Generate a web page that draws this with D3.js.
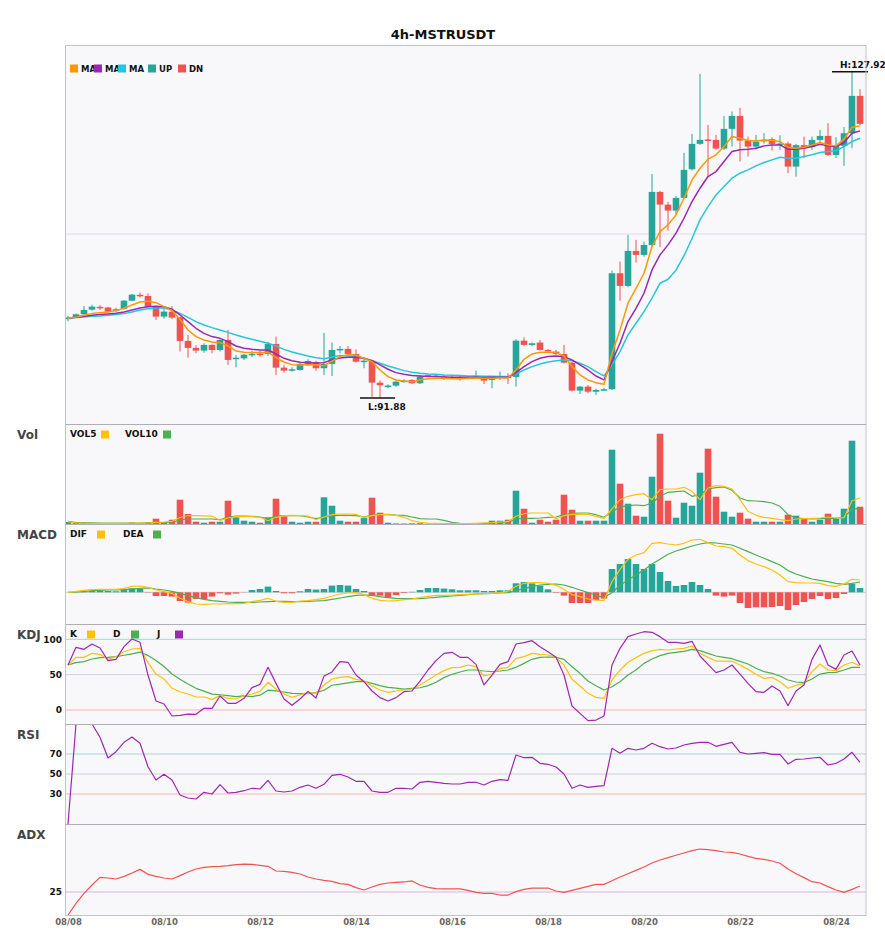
<!DOCTYPE html>
<html>
<head>
<meta charset="utf-8">
<script src="https://cdn.jsdelivr.net/npm/d3@7/dist/d3.min.js"></script>
<style>
html, body { margin: 0; padding: 0; background: #ffffff; }
svg { display: block; font-family: "DejaVu Sans", sans-serif; }
</style>
</head>
<body>
<svg id="chart" width="885" height="950"></svg>
<script>
// ---------------- DATA ----------------
const title = "4h-MSTRUSDT";
const tickLabels = ["08/08","08/10","08/12","08/14","08/16","08/18","08/20","08/22","08/24"];
const tickIndex  = [0, 12, 24, 36, 48, 60, 72, 84, 96];

const open = [100.68,100.76,101.13,101.64,101.95,101.88,101.53,101.72,102.63,103.28,
103.15,101.97,100.87,101.42,100.80,98.18,97.41,97.11,97.74,97.18,
98.29,96.16,96.25,96.70,96.78,96.74,97.85,95.23,94.90,94.97,
95.64,95.85,95.16,95.64,97.18,97.30,96.74,95.89,96.00,93.57,
93.15,93.24,93.65,93.87,93.50,94.30,94.28,94.26,94.18,94.12,
94.05,94.14,94.17,93.87,94.17,94.25,94.20,98.21,97.74,98.00,
97.18,97.00,96.74,95.78,92.69,93.13,92.57,92.76,92.84,105.66,
104.26,108.13,107.69,108.79,114.65,113.25,112.59,113.99,117.16,119.96,
120.45,120.40,119.44,121.62,123.05,120.32,119.66,120.25,120.48,119.96,
120.00,117.45,119.82,119.60,120.40,120.84,118.74,119.74,121.14,125.27];

const high = [100.94,101.20,102.05,102.19,102.13,101.95,101.83,102.70,103.37,103.52,
103.45,102.00,101.83,102.05,100.85,98.84,97.70,97.92,97.80,98.37,
99.40,96.63,96.74,97.11,97.11,98.07,98.66,95.53,95.27,95.89,
96.16,96.00,99.07,98.00,97.63,97.63,97.26,96.25,96.10,93.80,
93.39,93.79,93.94,93.94,94.42,94.50,94.45,94.42,94.35,94.30,
94.30,94.90,94.30,94.30,94.78,94.60,98.37,98.59,98.00,98.29,
97.30,97.18,97.74,95.90,93.20,93.31,92.90,93.00,105.95,106.95,
109.90,109.35,109.16,116.64,114.77,113.55,114.20,118.96,121.07,127.70,
122.06,120.95,123.05,123.53,123.94,120.77,120.95,121.14,120.70,120.92,
120.20,119.96,120.77,120.77,121.51,122.25,120.70,121.81,127.92,126.00];

const low = [100.36,100.70,101.10,101.53,101.61,101.35,101.39,101.65,102.56,103.01,
101.90,100.50,100.65,100.58,97.00,96.33,96.82,96.88,96.82,97.00,
95.53,95.27,96.08,96.38,96.38,96.52,94.42,94.68,94.79,94.90,
95.42,94.90,94.42,94.30,96.82,96.63,95.78,95.16,92.00,91.88,
92.95,93.10,93.57,93.42,93.42,94.20,94.15,93.87,93.98,93.79,
93.95,94.00,93.42,92.95,93.87,93.42,93.13,97.63,97.60,97.11,
97.00,96.63,95.70,92.58,92.32,92.40,92.21,92.70,92.76,102.63,
104.10,106.84,107.50,108.60,108.57,110.37,112.11,113.90,117.00,119.85,
116.31,119.30,119.30,119.66,118.00,118.56,119.30,120.00,119.22,119.30,
116.72,116.34,118.38,119.30,120.00,118.60,118.40,117.53,119.48,122.00];

const close = [100.76,101.13,101.61,101.97,101.88,101.42,101.68,102.63,103.30,103.24,
101.97,100.87,101.42,100.76,98.18,97.41,97.11,97.74,97.18,98.29,
96.08,96.33,96.66,96.76,96.72,97.85,95.23,94.90,95.05,95.64,
95.97,95.16,95.64,97.18,97.30,96.74,95.89,96.00,93.57,93.28,
93.25,93.68,93.79,93.50,94.23,94.39,94.34,94.20,94.12,94.05,
94.14,94.30,93.79,94.17,94.25,94.20,98.21,97.74,97.92,97.18,
97.11,96.74,95.78,92.69,93.13,92.57,92.76,92.84,105.66,104.26,
108.13,107.69,108.79,114.65,113.25,112.59,113.99,117.09,119.96,120.40,
120.38,119.44,121.62,123.05,120.32,119.66,120.21,120.40,119.96,120.00,
117.45,119.82,119.60,120.40,120.84,118.74,119.74,121.14,125.27,122.17];

const ma5 = [100.68,100.83,101.01,101.20,101.31,101.38,101.53,101.79,102.16,102.49,
102.56,102.41,101.97,101.53,100.57,99.39,98.66,98.29,98.07,97.99,
97.62,97.07,96.92,96.89,96.89,96.92,96.33,95.85,95.56,95.52,
95.56,95.56,95.45,95.95,96.45,96.67,96.59,96.26,95.89,94.97,
94.24,93.87,93.76,93.68,93.87,94.01,94.05,94.05,94.01,94.01,
94.05,94.09,94.05,94.05,94.09,94.09,94.97,96.15,96.74,96.93,
96.93,96.89,96.52,95.34,94.42,93.87,93.57,93.40,96.82,99.40,
102.35,104.00,105.66,108.61,110.27,111.01,112.11,113.95,115.98,117.27,
118.27,118.75,119.67,120.77,120.59,120.33,120.29,120.40,120.33,120.22,
119.59,119.48,119.59,119.85,120.11,119.85,119.74,120.48,121.80,121.95];

const ma10 = [100.68,100.79,100.90,101.01,101.09,101.16,101.23,101.38,101.60,101.82,
101.97,102.01,101.97,101.68,101.05,100.31,99.58,99.02,98.66,98.47,
98.10,97.62,97.37,97.25,97.18,97.18,96.74,96.26,96.00,95.82,
95.78,95.74,95.78,96.10,96.30,96.37,96.37,96.26,96.00,95.53,
95.05,94.68,94.49,94.35,94.31,94.24,94.24,94.20,94.16,94.16,
94.16,94.16,94.13,94.16,94.16,94.16,94.68,95.34,95.89,96.26,
96.45,96.52,96.45,96.08,95.53,94.97,94.30,93.87,95.90,97.92,
100.32,101.79,103.45,106.03,107.69,108.80,110.09,111.74,113.59,115.06,
116.35,116.90,118.01,119.11,119.30,119.37,119.48,119.74,119.85,119.85,
119.37,119.37,119.48,119.67,119.93,119.74,119.67,120.11,121.14,121.40];

const ma20 = [100.68,100.76,100.83,100.90,100.94,101.01,101.09,101.20,101.38,101.60,
101.75,101.82,101.82,101.60,101.23,100.79,100.31,99.94,99.65,99.39,
99.13,98.84,98.58,98.36,98.14,97.92,97.62,97.25,96.96,96.74,
96.52,96.33,96.22,96.40,96.56,96.52,96.45,96.26,96.00,95.71,
95.41,95.16,94.90,94.71,94.60,94.53,94.49,94.42,94.38,94.35,
94.31,94.31,94.27,94.27,94.24,94.24,94.53,94.97,95.34,95.64,
95.86,96.00,96.08,96.00,95.71,95.34,94.79,94.31,95.53,97.00,
98.85,100.13,101.42,102.90,104.56,105.00,106.00,107.60,109.50,111.56,
113.03,114.32,115.24,116.17,116.72,117.09,117.53,117.90,118.19,118.49,
118.38,118.38,118.56,118.75,119.00,119.11,119.19,119.67,120.22,120.59];

const volume = [2,1.5,1,1,0.7,0.7,0.7,1,1.5,0.7,
1.7,5.3,1.7,4.3,24.3,10,2.3,1.3,2.3,2.3,
23.3,6.7,3.3,2.3,1.3,6.7,25.3,7.7,2.3,1.3,
2.3,2.3,26.7,18.3,3.3,2.3,2.3,6,26.3,11.3,
1.3,0.6,0.5,0.7,0.8,0.4,0.4,0.3,0.3,0.3,
0.4,1,1,3.3,3.3,4.3,33.3,15.3,1.3,4.3,
2.3,4.3,29.3,14.3,3.3,3.3,3.3,3.3,74.3,40.3,
20.3,8.3,7.3,47.3,90.3,23.3,6.3,21.3,18.3,51.3,
75.3,27.3,12.3,7.3,11.3,5.3,2.3,2.3,2.3,2.3,
9.3,8.3,5.3,2.3,4.3,10.3,5.3,15.3,83.3,17.3];

const vol5 = [2.3,1,0.8,0.7,0.7,0.7,0.7,0.7,0.8,0.8,
1,1.7,2,2.7,6.5,8.5,8.3,8.2,7.8,3.7,
6,7.3,7.3,7.3,6.7,3.3,6.7,8.3,8.7,8.3,
8,4.3,7,9.3,10,10,9.7,6.3,8.3,9.3,
9.3,8.7,6.7,3.3,1.7,1,0.7,0.3,0.3,0.3,
0.3,0.7,1,1.3,2,2.3,7.7,10.3,11,11,
11,5.3,8.3,9.7,9.7,9.7,7.7,5.7,15,24.3,
27.7,29.3,30.3,24.3,34.3,35,35,36.7,32.7,24.3,
36,38.3,37.7,35,24.3,12.7,8.7,6.7,5.7,4.3,
3.3,5,5.3,5.7,6,7,6,6.3,23.3,26];

const vol10 = [2.7,1.3,1.3,1.2,1,1,1,1,1,1,
1.2,1.3,1.3,2,4,5,5,5,5,4.3,
7,8,8,7.7,7,5.3,8,8.3,8.3,8.3,
7,5.3,7,8.3,8.7,8.7,8.3,7,9,9.3,
9.7,9,8.7,7,5.3,5,5,3.7,1.7,0.7,
0.3,0.3,0.7,1,1.3,1.7,5,5.7,5.7,6,
6.7,7,9.3,10.7,11,11,9.3,6.7,12.3,17,
18.3,19,18.3,21,27.7,31.7,32.3,33,27.7,29.3,
35,36.3,37,33.7,26,23.3,23,22.3,21,17.7,
9.3,6,5.3,5,5.3,5.7,5.7,7,14.3,16];

const macdHist = [0,0.05,0.1,0.17,0.13,0.13,0.1,0.3,0.4,0.33,
-0.03,-0.37,-0.37,-0.43,-0.87,-1.03,-0.67,-0.67,-0.43,-0.1,
-0.23,-0.13,-0.02,0.23,0.33,0.57,0.13,-0.1,-0.1,0.1,
0.33,0.27,0.33,0.67,0.73,0.67,0.33,0.13,-0.33,-0.33,
-0.53,-0.27,-0.07,0.05,0.23,0.43,0.43,0.37,0.3,0.2,
0.2,0.2,0.13,0.13,0.2,0.2,0.9,1.03,0.9,0.67,
0.3,-0.05,-0.33,-1.07,-1.07,-1.07,-0.8,-0.63,2.33,2.83,
3.33,2.83,2.33,2.83,2.03,1.13,0.63,0.73,1.03,0.73,
0.33,-0.33,-0.43,-0.33,-1.07,-1.57,-1.5,-1.5,-1.47,-1.37,
-1.77,-1.27,-0.97,-0.67,-0.37,-0.67,-0.57,-0.17,0.83,0.43];

const dif = [0,0.10,0.20,0.27,0.30,0.30,0.30,0.40,0.60,0.63,
0.50,0.23,0.07,-0.10,-0.60,-0.93,-1.17,-1.20,-1.17,-1.17,
-1.13,-1.13,-1.10,-0.93,-0.80,-0.60,-0.90,-1.00,-1.00,-0.88,
-0.83,-0.73,-0.60,-0.37,-0.17,-0.07,-0.03,-0.23,-0.60,-0.80,
-0.87,-0.83,-0.73,-0.67,-0.53,-0.40,-0.30,-0.30,-0.27,-0.23,
-0.20,-0.17,-0.13,-0.10,-0.03,0.10,0.60,0.90,0.97,0.97,
0.90,0.70,0.30,-0.23,-0.43,-0.67,-0.77,-0.83,1.07,2.30,
3.30,3.73,3.97,4.90,4.97,4.83,4.73,4.90,5.23,5.30,
4.97,4.63,4.57,4.40,3.73,3.17,2.83,2.57,2.23,1.73,
1.07,0.97,0.93,0.93,0.90,0.67,0.60,0.83,1.30,1.23];

const dea = [0,0.03,0.10,0.17,0.20,0.23,0.23,0.27,0.33,0.40,
0.45,0.33,0.23,0.10,-0.10,-0.33,-0.53,-0.70,-0.83,-0.90,
-0.97,-1.00,-1.00,-1.00,-0.97,-0.93,-0.90,-0.90,-0.93,-0.93,
-0.90,-0.87,-0.83,-0.70,-0.57,-0.43,-0.30,-0.27,-0.30,-0.43,
-0.53,-0.60,-0.63,-0.63,-0.63,-0.57,-0.50,-0.43,-0.37,-0.30,
-0.23,-0.17,-0.13,-0.10,-0.07,-0.03,0.17,0.37,0.57,0.73,
0.80,0.83,0.73,0.50,0.23,-0.03,-0.30,-0.53,-0.05,0.70,
1.23,1.73,2.23,2.83,3.30,3.80,4.13,4.37,4.63,4.83,
4.97,4.93,4.83,4.73,4.40,4.07,3.73,3.40,3.07,2.73,
2.17,1.83,1.57,1.33,1.20,1.07,0.90,0.80,0.90,1.03];

const kLine = [63.7,74.5,74.5,80.2,78.8,71.7,75.5,82.5,86.3,87.3,
67.0,50.9,43.9,30.7,25.9,22.6,18.4,18.4,15.1,20.3,
16.5,15.6,19.8,22.6,26.4,39.2,29.7,22.6,17.9,21.2,
24.5,23.6,35.4,43.9,46.2,47.2,43.4,41.0,34.0,28.3,
25.0,26.9,28.3,29.7,35.4,42.5,49.5,55.7,59.9,60.4,
63.7,61.3,48.1,50.9,58.5,60.4,73.1,75.5,80.2,78.8,
77.8,74.5,63.7,43.4,34.0,23.6,17.9,16.5,42.5,56.6,
67.5,74.1,80.2,84.0,85.8,84.9,86.3,87.3,90.6,80.2,
74.5,69.3,69.3,68.9,63.7,57.5,50.5,44.8,46.2,40.1,
30.7,34.9,37.7,54.2,65.1,56.6,55.7,63.7,67.5,62.3];

const dLine = [63.7,67.0,68.4,72.2,74.1,74.5,75.5,77.5,79.5,82.0,
77.0,70.0,61.5,51.0,43.5,36.8,30.7,26.7,22.5,21.6,
20.3,19.0,20.0,19.0,21.0,28.0,27.0,25.5,23.6,23.3,
23.0,24.5,28.0,35.0,36.5,38.5,40.2,40.5,37.7,34.5,
32.0,31.0,29.6,30.5,31.5,34.5,39.3,45.8,50.5,53.8,
56.6,56.6,55.2,54.2,55.2,56.6,60.4,66.0,71.7,74.5,
75.0,74.5,71.7,61.3,51.9,41.0,34.4,28.3,33.0,40.1,
49.5,56.6,66.0,72.2,76.9,80.2,81.6,83.0,85.8,84.0,
80.2,76.4,74.5,72.6,68.9,65.1,59.0,54.2,51.9,48.1,
42.5,39.6,38.7,43.9,50.9,52.8,53.3,56.6,60.4,60.4];

const jLine = [63.7,88.7,85.8,93.4,87.7,69.8,71.7,89.6,100.5,95.8,
49.5,12.7,8.5,-8.5,-7.5,-5.7,-6.1,2.4,2.4,19.8,
9.4,9.4,16.5,31.6,36.3,60.4,37.7,15.6,6.6,15.6,
26.4,17.0,48.0,53.8,68.4,67.5,49.5,40.1,26.9,17.5,
12.7,17.5,25.9,26.9,41.0,56.6,69.8,80.2,81.6,74.5,
74.5,64.6,35.4,49.5,64.6,68.4,93.4,95.3,98.1,89.6,
82.5,74.5,49.5,5.7,-4.7,-15.1,-14.2,-8.5,63.7,87.3,
103.8,107.5,110.8,109.9,103.8,95.8,95.8,94.3,97.2,76.4,
64.6,52.8,56.6,63.7,50.9,37.7,25.9,25.0,34.0,26.9,
6.1,26.9,35.4,71.7,92.0,63.7,57.5,77.8,83.5,63.7];

const rsi = [0,100,100,100,86.7,66.0,72.3,81.7,87.0,80.7,
57.3,44.0,49.7,44.0,29.0,26.0,25.0,31.7,30.0,39.3,
31.0,31.7,33.3,35.7,35.0,43.7,33.0,32.0,33.0,36.7,
39.0,35.7,39.7,48.7,49.7,47.0,42.7,42.7,33.0,31.7,
31.7,35.7,35.7,35.0,41.7,42.7,41.7,40.7,40.0,40.0,
41.7,41.7,39.0,42.7,44.3,43.7,69.0,66.3,66.7,60.7,
59.7,57.0,50.0,35.7,39.0,36.7,37.7,38.3,75.7,70.7,
75.7,74.0,75.7,80.7,77.3,75.0,76.0,79.0,80.7,81.7,
81.7,77.7,79.7,81.7,71.7,70.0,70.7,71.3,69.7,69.7,
60.0,64.7,65.0,66.0,66.7,59.0,60.7,65.0,71.7,61.7];

const adx = [0,12.7,23.5,32.6,40.9,40.2,39.1,42.0,45.6,49.6,
44.2,42.0,40.2,39.1,42.8,46.7,50.0,51.8,52.5,52.9,
53.6,54.7,55.4,55.1,54.0,52.9,47.8,47.5,46.4,44.6,
41.3,39.1,37.7,36.6,34.1,33.3,29.7,27.2,30.4,33.3,
34.8,35.5,35.9,37.0,32.6,30.1,28.6,28.3,28.3,28.3,
26.8,24.6,23.5,23.5,21.7,21.7,25.4,27.9,29.3,29.3,
29.3,26.1,24.6,26.8,29.0,31.2,33.3,33.3,37.3,41.3,
44.9,48.5,52.2,56.5,59.8,62.3,64.9,67.4,69.9,71.7,
71.0,69.9,68.5,68.1,66.3,63.8,61.6,60.5,58.7,56.2,
50.0,44.9,40.6,36.2,34.8,30.8,27.2,24.6,27.9,31.5];

const priceGrid = [110];
const kdjRefs = [100, 50, 0];
const rsiRefs = [70, 50, 30];
const adxRefs = [25];

// ---------------- LAYOUT / STYLE ----------------
const UP = "#26a69a", DN = "#ef5350";
const C_ORANGE = "#ff9800", C_PURPLE = "#9c27b0", C_CYAN = "#26c6da";
const C_YELLOW = "#ffc107", C_GREEN = "#4caf50";
const PX0 = 66, PX1 = 866;
const panels = {
  main: [45, 424], vol: [424, 524], macd: [524, 624],
  kdj: [624, 724], rsi: [724, 824], adx: [824, 915]
};
const n = close.length;

const svg = d3.select("#chart");

// scales
const x = d3.scaleLinear().domain([0, n - 1]).range([68, 860]);
const yMain = d3.scaleLinear().domain([89, 131]).range([424, 44]);
const yVol = d3.scaleLinear().domain([0, 100]).range([524, 424]);
const yMacd = d3.scaleLinear().domain([-3.17, 6.83]).range([624, 524]);
const yKdj = d3.scaleLinear().domain([-19.8, 121.7]).range([724, 624]);
const yRsi = d3.scaleLinear().domain([0, 100]).range([824, 724]);
const yAdx = d3.scaleLinear().domain([0, 100]).range([915, 823]);

// title
svg.append("text").attr("x", 443).attr("y", 39).attr("text-anchor", "middle")
  .attr("font-size", 13).attr("font-weight", "bold").attr("fill", "#111").text(title);

// panel backgrounds + clip paths
const defs = svg.append("defs");
Object.entries(panels).forEach(([key, [t, b]]) => {
  svg.append("rect").attr("x", PX0).attr("y", t).attr("width", PX1 - PX0).attr("height", b - t)
    .attr("fill", "#f8f8fb");
  defs.append("clipPath").attr("id", "clip-" + key).append("rect")
    .attr("x", PX0).attr("y", t).attr("width", PX1 - PX0).attr("height", b - t);
});

function panelG(key) {
  return svg.append("g").attr("clip-path", `url(#clip-${key})`);
}
function refLines(g, scale, values, colors) {
  g.selectAll(null).data(values).join("line")
    .attr("x1", PX0).attr("x2", PX1)
    .attr("y1", d => scale(d)).attr("y2", d => scale(d))
    .attr("stroke", (d, i) => colors[i]).attr("stroke-width", 1);
}
function drawLine(g, data, scale, color, width) {
  g.append("path").datum(data)
    .attr("fill", "none").attr("stroke", color).attr("stroke-width", width)
    .attr("stroke-linejoin", "round")
    .attr("d", d3.line().x((d, i) => x(i)).y(d => scale(d)));
}
const isUp = i => close[i] >= open[i];
const idx = d3.range(n);

// ---------- main panel ----------
const gMain = panelG("main");
refLines(gMain, yMain, priceGrid, ["#dcdce2"]);
gMain.selectAll(null).data(idx).join("line")
  .attr("x1", i => x(i)).attr("x2", i => x(i))
  .attr("y1", i => yMain(high[i])).attr("y2", i => yMain(low[i]))
  .attr("stroke", i => isUp(i) ? UP : DN).attr("stroke-width", 1);
gMain.selectAll(null).data(idx).join("rect")
  .attr("x", i => x(i) - 3.3).attr("width", 6.6)
  .attr("y", i => yMain(Math.max(open[i], close[i])))
  .attr("height", i => Math.max(1.5, Math.abs(yMain(open[i]) - yMain(close[i]))))
  .attr("fill", i => isUp(i) ? UP : DN);
drawLine(gMain, ma20, yMain, C_CYAN, 1.5);
drawLine(gMain, ma10, yMain, C_PURPLE, 1.5);
drawLine(gMain, ma5, yMain, C_ORANGE, 1.5);

// high / low markers
const hi = d3.maxIndex(high), lo = d3.minIndex(low);
svg.append("line").attr("x1", x(hi) - 20).attr("x2", x(hi) + 16)
  .attr("y1", yMain(high[hi])).attr("y2", yMain(high[hi]))
  .attr("stroke", "#111").attr("stroke-width", 1.5);
svg.append("text").attr("x", x(hi) - 12).attr("y", yMain(high[hi]) - 4)
  .attr("font-size", 9).attr("font-weight", "bold").attr("fill", "#111")
  .text("H:" + high[hi].toFixed(2));
svg.append("line").attr("x1", x(lo) - 20).attr("x2", x(lo) + 15)
  .attr("y1", yMain(low[lo])).attr("y2", yMain(low[lo]))
  .attr("stroke", "#111").attr("stroke-width", 1.5);
svg.append("text").attr("x", x(lo) - 12).attr("y", yMain(low[lo]) + 12)
  .attr("font-size", 9).attr("font-weight", "bold").attr("fill", "#111")
  .text("L:" + low[lo].toFixed(2));

// main legend
const mainLegend = [
  {t: "MA", c: C_ORANGE, x: 70}, {t: "MA", c: C_PURPLE, x: 94},
  {t: "MA", c: C_CYAN, x: 118}, {t: "UP", c: UP, x: 148}, {t: "DN", c: DN, x: 178}
];
svg.selectAll(null).data(mainLegend).join("text")
  .attr("x", d => d.x + 11).attr("y", 72.3).attr("font-size", 8.5)
  .attr("font-weight", "bold").attr("fill", "#111").text(d => d.t);
svg.selectAll(null).data(mainLegend).join("rect")
  .attr("x", d => d.x).attr("y", 64.5).attr("width", 8).attr("height", 8).attr("fill", d => d.c);

// ---------- volume ----------
const gVol = panelG("vol");
gVol.selectAll(null).data(idx).join("rect")
  .attr("x", i => x(i) - 3.3).attr("width", 6.6)
  .attr("y", i => yVol(volume[i])).attr("height", i => yVol(0) - yVol(volume[i]))
  .attr("fill", i => isUp(i) ? UP : DN);
drawLine(gVol, vol10, yVol, C_GREEN, 1.2);
drawLine(gVol, vol5, yVol, C_YELLOW, 1.2);

// ---------- MACD ----------
const gMacd = panelG("macd");
refLines(gMacd, yMacd, [0], ["#cfcfd4"]);
gMacd.selectAll(null).data(idx).join("rect")
  .attr("x", i => x(i) - 3.3).attr("width", 6.6)
  .attr("y", i => yMacd(Math.max(0, macdHist[i])))
  .attr("height", i => Math.abs(yMacd(macdHist[i]) - yMacd(0)))
  .attr("fill", i => macdHist[i] >= 0 ? UP : DN);
drawLine(gMacd, dea, yMacd, C_GREEN, 1.2);
drawLine(gMacd, dif, yMacd, C_YELLOW, 1.2);

// ---------- KDJ ----------
const gKdj = panelG("kdj");
refLines(gKdj, yKdj, kdjRefs, ["#a6d8d2", "#d0d0d6", "#f6b5b5"]);
drawLine(gKdj, dLine, yKdj, C_GREEN, 1.2);
drawLine(gKdj, kLine, yKdj, C_YELLOW, 1.2);
drawLine(gKdj, jLine, yKdj, C_PURPLE, 1.2);

// ---------- RSI ----------
const gRsi = panelG("rsi");
refLines(gRsi, yRsi, rsiRefs, ["#a6d8d2", "#d0d0d6", "#f6b5b5"]);
drawLine(gRsi, rsi, yRsi, C_PURPLE, 1.2);

// ---------- ADX ----------
const gAdx = panelG("adx");
refLines(gAdx, yAdx, adxRefs, ["#d9b3e0"]);
drawLine(gAdx, adx, yAdx, DN, 1.2);

// panel borders
Object.entries(panels).forEach(([key, [t, b]]) => {
  svg.append("rect").attr("x", PX0 - 0.5).attr("y", t + 0.5).attr("width", PX1 - PX0 + 0.5)
    .attr("height", b - t).attr("fill", "none").attr("stroke", "#c2c2ca").attr("stroke-width", 1);
});
[424, 524, 624, 724, 824].forEach(yy => {
  svg.append("line").attr("x1", PX0 - 0.5).attr("x2", PX1).attr("y1", yy + 0.5).attr("y2", yy + 0.5)
    .attr("stroke", "#aeaeb6").attr("stroke-width", 1);
});

// sub-panel legends
const subLegends = [
  {top: 424, items: [{t: "VOL5", c: C_YELLOW, tx: 70, sx: 101}, {t: "VOL10", c: C_GREEN, tx: 125, sx: 163}]},
  {top: 524, items: [{t: "DIF", c: C_YELLOW, tx: 70, sx: 97}, {t: "DEA", c: C_GREEN, tx: 123, sx: 153}]},
  {top: 624, items: [{t: "K", c: C_YELLOW, tx: 70, sx: 87}, {t: "D", c: C_GREEN, tx: 113, sx: 131}, {t: "J", c: C_PURPLE, tx: 157, sx: 175}]}
];
subLegends.forEach(L => {
  svg.selectAll(null).data(L.items).join("text")
    .attr("x", d => d.tx).attr("y", L.top + 13.3).attr("font-size", 9)
    .attr("font-weight", "bold").attr("fill", "#111").text(d => d.t);
  svg.selectAll(null).data(L.items).join("rect")
    .attr("x", d => d.sx).attr("y", L.top + 6.5).attr("width", 8).attr("height", 8)
    .attr("fill", d => d.c);
});

// panel labels
const panelLabels = [["Vol", 424], ["MACD", 524], ["KDJ", 624], ["RSI", 724], ["ADX", 824]];
svg.selectAll(null).data(panelLabels).join("text")
  .attr("x", 17).attr("y", d => d[1] + 15).attr("font-size", 12)
  .attr("font-weight", "bold").attr("fill", "#444").text(d => d[0]);

// y axes (tick labels only)
function leftAxis(scale, values) {
  const g = svg.append("g").attr("transform", `translate(${PX0},0)`)
    .call(d3.axisLeft(scale).tickValues(values).tickSize(0).tickPadding(4));
  g.select(".domain").remove();
  g.selectAll("text").attr("font-size", 9).attr("font-weight", "bold")
    .attr("fill", "#111").attr("font-family", "DejaVu Sans");
}
leftAxis(yKdj, kdjRefs);
leftAxis(yRsi, rsiRefs);
leftAxis(yAdx, adxRefs);

// x axis
const gx = svg.append("g").attr("transform", "translate(0,915)")
  .call(d3.axisBottom(x).tickValues(tickIndex).tickFormat((d, k) => tickLabels[k])
    .tickSize(0).tickPadding(4));
gx.select(".domain").remove();
gx.selectAll("text").attr("font-size", 8.5).attr("font-weight", "bold")
  .attr("fill", "#666").attr("font-family", "DejaVu Sans");
</script>
</body>
</html>
